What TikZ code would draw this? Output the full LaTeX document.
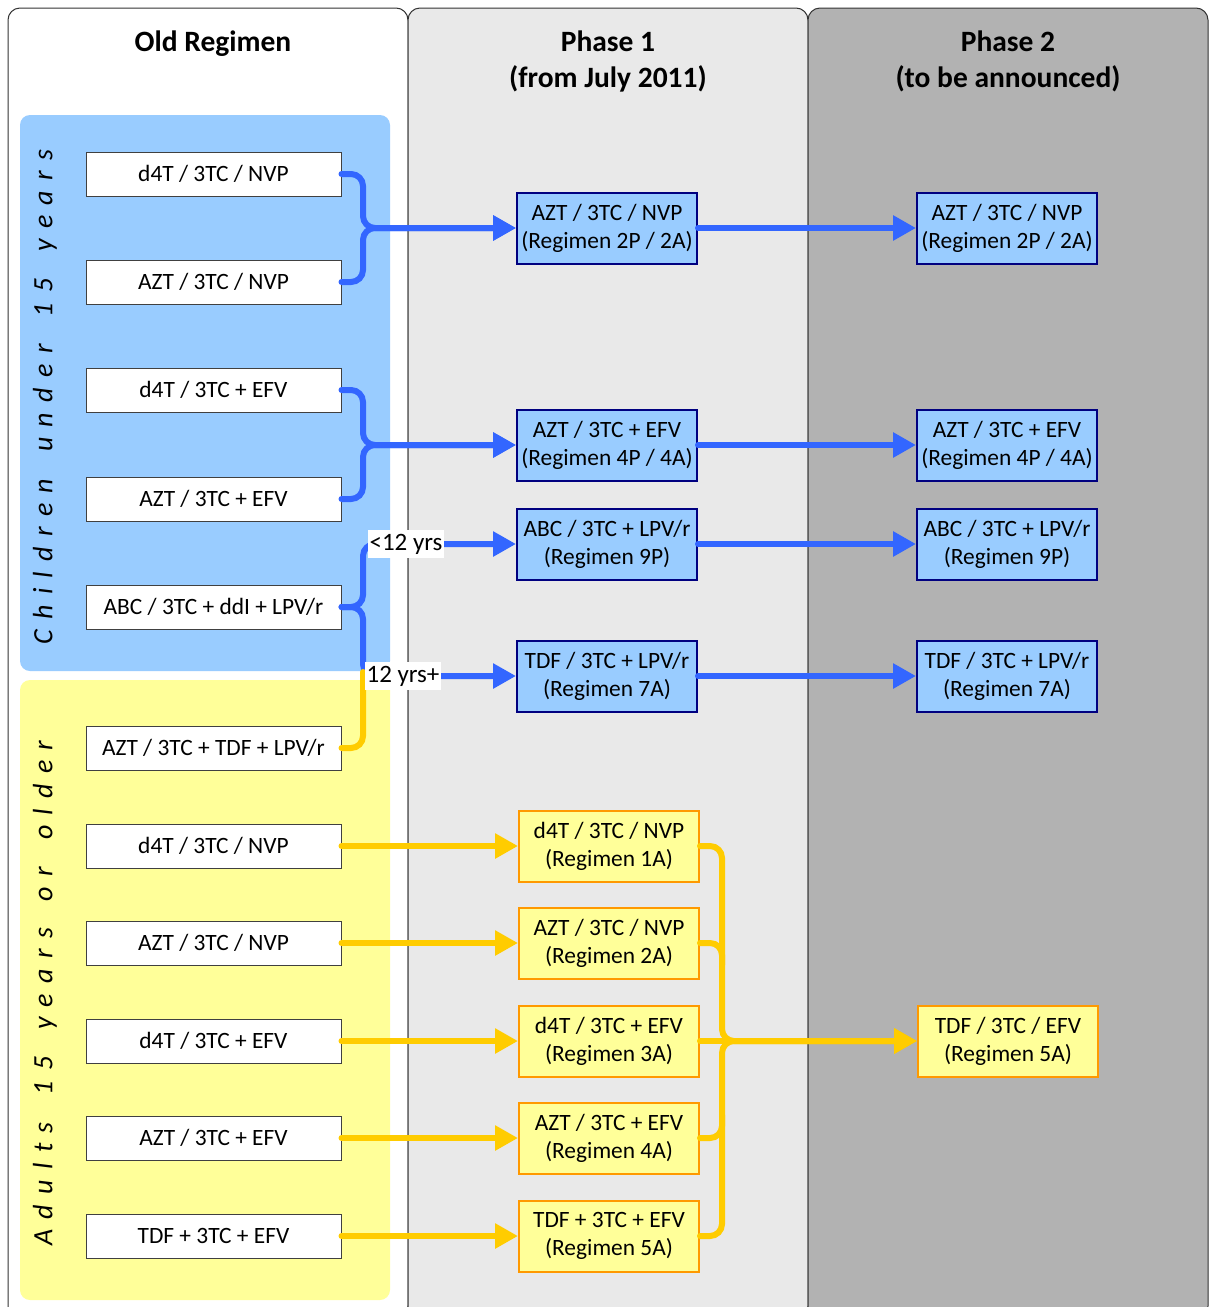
\documentclass[tikz,border=0pt]{standalone}
\usepackage{fontspec}
\setmainfont{Carlito}
\usetikzlibrary{arrows.meta}
\definecolor{bfill}{HTML}{99CCFF}
\definecolor{yfill}{HTML}{FFFF99}
\definecolor{bline}{HTML}{3366FF}
\definecolor{yline}{HTML}{FFCC00}
\definecolor{navyb}{HTML}{000080}
\definecolor{orng}{HTML}{FF9900}
\definecolor{pgray}{HTML}{E9E9E9}
\definecolor{dgray}{HTML}{B2B2B2}
\newcommand{\boxfont}{\fontsize{23.4}{28}\selectfont}
\begin{document}
\begin{tikzpicture}[x=1pt,y=-1pt,
  panel/.style={draw=black!80, line width=1pt, rounded corners=12pt},
  region/.style={rounded corners=10pt},
  oldbox/.style={draw=black!75, line width=1pt, fill=white, minimum width=255pt, minimum height=44pt, inner sep=0pt, font=\boxfont},
  bbox/.style={draw=navyb, line width=2pt, fill=bfill, minimum width=180pt, minimum height=71pt, inner sep=0pt, align=center, font=\boxfont},
  ybox/.style={draw=orng, line width=2pt, fill=yfill, minimum width=180pt, minimum height=71pt, inner sep=0pt, align=center, font=\boxfont},
  bcon/.style={draw=bline, line width=6pt, rounded corners=12pt, line cap=round},
  ycon/.style={draw=yline, line width=6pt, rounded corners=12pt, line cap=round},
  tip/.style={-{Triangle[length=23pt,width=24pt]}},
  lbl/.style={fill=white, inner xsep=2pt, inner ysep=4pt, font=\fontsize{25}{28}\selectfont},
  title/.style={align=center, font=\fontsize{29.5}{36}\selectfont\bfseries},
  side/.style={rotate=90, inner sep=0pt, font=\fontsize{28}{30}\selectfont\itshape}]
\useasboundingbox (0,0) rectangle (1214,1307);
\fill[white] (0,0) rectangle (1214,1307);
% panels
\draw[panel, fill=white] (8,8) rectangle (408,1318);
\draw[panel, fill=pgray] (408,8) rectangle (808,1318);
\draw[panel, fill=dgray] (808,8) rectangle (1208,1318);
% titles
\node[title] (t1) at (213,44) {Old Regimen};
\node[title] (t2) at (608,61) {Phase 1\\(from July 2011)};
\node[title] (t3) at (1008,61) {Phase 2\\(to be announced)};
% regions
\fill[region, bfill] (20,115) rectangle (390,671);
\fill[region, yfill] (20,680) rectangle (390,1300);
\node[side] (s1) at (45,397) {\makebox[495pt][s]{C\hfill h\hfill i\hfill l\hfill d\hfill r\hfill e\hfill n\hfill\ \hfill u\hfill n\hfill d\hfill e\hfill r\hfill\ \hfill 1\hfill 5\hfill\ \hfill y\hfill e\hfill a\hfill r\hfill s}};
\node[side] (s2) at (45,993) {\makebox[505pt][s]{A\hfill d\hfill u\hfill l\hfill t\hfill s\hfill\ \hfill 1\hfill 5\hfill\ \hfill y\hfill e\hfill a\hfill r\hfill s\hfill\ \hfill o\hfill r\hfill\ \hfill o\hfill l\hfill d\hfill e\hfill r}};
% old regimen boxes
\node[oldbox] (o1) at (213.5,174) {d4T / 3TC / NVP};
\node[oldbox] (o2) at (213.5,282) {AZT / 3TC / NVP};
\node[oldbox] (o3) at (213.5,390) {d4T / 3TC + EFV};
\node[oldbox] (o4) at (213.5,499) {AZT / 3TC + EFV};
\node[oldbox] (o5) at (213.5,607) {ABC / 3TC + ddI + LPV/r};
\node[oldbox] (o6) at (213.5,748) {AZT / 3TC + TDF + LPV/r};
\node[oldbox] (o7) at (213.5,846) {d4T / 3TC / NVP};
\node[oldbox] (o8) at (213.5,943) {AZT / 3TC / NVP};
\node[oldbox] (o9) at (213.5,1041) {d4T / 3TC + EFV};
\node[oldbox] (o10) at (213.5,1138) {AZT / 3TC + EFV};
\node[oldbox] (o11) at (213.5,1236) {TDF + 3TC + EFV};
% phase 1 blue
\node[bbox] (p1) at (607,228) {AZT / 3TC / NVP\\(Regimen 2P / 2A)};
\node[bbox] (p2) at (607,445) {AZT / 3TC + EFV\\(Regimen 4P / 4A)};
\node[bbox] (p3) at (607,544) {ABC / 3TC + LPV/r\\(Regimen 9P)};
\node[bbox] (p4) at (607,676) {TDF / 3TC + LPV/r\\(Regimen 7A)};
% phase 2 blue
\node[bbox] (q1) at (1007,228) {AZT / 3TC / NVP\\(Regimen 2P / 2A)};
\node[bbox] (q2) at (1007,445) {AZT / 3TC + EFV\\(Regimen 4P / 4A)};
\node[bbox] (q3) at (1007,544) {ABC / 3TC + LPV/r\\(Regimen 9P)};
\node[bbox] (q4) at (1007,676) {TDF / 3TC + LPV/r\\(Regimen 7A)};
% phase 1 yellow
\node[ybox] (y1) at (609,846) {d4T / 3TC / NVP\\(Regimen 1A)};
\node[ybox] (y2) at (609,943) {AZT / 3TC / NVP\\(Regimen 2A)};
\node[ybox] (y3) at (609,1041) {d4T / 3TC + EFV\\(Regimen 3A)};
\node[ybox] (y4) at (609,1138) {AZT / 3TC + EFV\\(Regimen 4A)};
\node[ybox] (y5) at (609,1236) {TDF + 3TC + EFV\\(Regimen 5A)};
% phase 2 yellow
\node[ybox] (z1) at (1008,1041) {TDF / 3TC / EFV\\(Regimen 5A)};
% blue connectors
\draw[bcon,tip] (o1.east) -- (363,174) -- (363,228) -- (p1.west);
\draw[bcon,tip] (o2.east) -- (363,282) -- (363,228) -- (p1.west);
\draw[bcon,tip] (o3.east) -- (363,390) -- (363,445) -- (p2.west);
\draw[bcon,tip] (o4.east) -- (363,499) -- (363,445) -- (p2.west);
\draw[bcon,tip] (o5.east) -- (363,607) -- (363,544) -- (p3.west);
\draw[bcon,tip] (o5.east) -- (363,607) -- (363,676) -- (p4.west);
\draw[ycon] (o6.east) -- (363,748) -- (363,672);
\draw[bcon,tip] (p1.east) -- (q1.west);
\draw[bcon,tip] (p2.east) -- (q2.west);
\draw[bcon,tip] (p3.east) -- (q3.west);
\draw[bcon,tip] (p4.east) -- (q4.west);
\node[lbl] (l1) at (406,544) {<12 yrs};
\node[lbl] (l2) at (403,676) {12 yrs+};
% yellow connectors
\draw[ycon,tip] (o7.east) -- (y1.west);
\draw[ycon,tip] (o8.east) -- (y2.west);
\draw[ycon,tip] (o9.east) -- (y3.west);
\draw[ycon,tip] (o10.east) -- (y4.west);
\draw[ycon,tip] (o11.east) -- (y5.west);
\draw[ycon,tip] (y1.east) -- (722,846) -- (722,1041) -- (z1.west);
\draw[ycon,tip] (y5.east) -- (722,1236) -- (722,1041) -- (z1.west);
\draw[ycon] (y2.east) -- (722,943) -- (722,965);
\draw[ycon] (y4.east) -- (722,1138) -- (722,1115);
\draw[ycon,tip] (y3.east) -- (z1.west);
\end{tikzpicture}
\end{document}
